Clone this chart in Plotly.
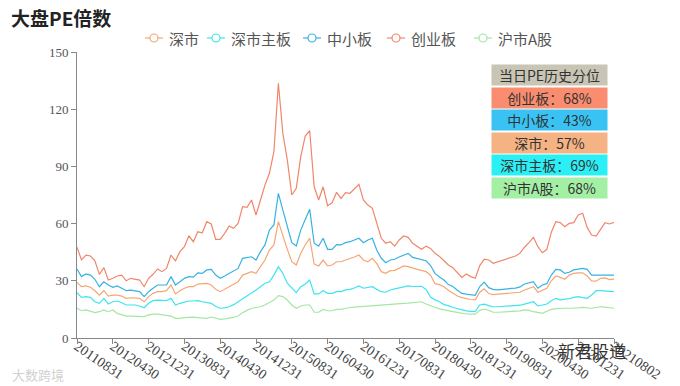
import calendar
import plotly.graph_objects as go

# ---------------- data ----------------
def month_ends(y, m, n):
    out = []
    for _ in range(n):
        d = calendar.monthrange(y, m)[1]
        out.append(f"{y}{m:02d}{d:02d}")
        m += 1
        if m > 12:
            m = 1
            y += 1
    return out

dates = month_ends(2011, 8, 120) + ["20210802"]
tick_labels = dates[::8]

cyb = [47.6, 41, 43.5, 43, 40.5, 33.4, 36.9, 30.4, 31.3, 32.5,
       33, 30, 31.3, 30.8, 30.4, 26.9, 31.3, 33.4, 36.2, 34.8,
       36.5, 43.5, 40.5, 45.3, 47.9, 53.6, 50.5, 55.7, 55.2, 61,
       59.8, 51.7, 51.7, 54.9, 58.7, 57.5, 60.1, 68.9, 68.5, 72.4,
       64.5, 72.4, 80.2, 86.4, 97.7, 133.6, 107.3, 93.3, 75, 78.5,
       95.1, 105.9, 108.7, 79.3, 72.4, 79.3, 69.4, 70.9, 76.4, 73.2,
       76.2, 75.9, 78.5, 80.6, 72.4, 69.7, 68, 60, 52.3, 49.7,
       50.5, 48.2, 51.4, 53.5, 52.8, 49.7, 48.2, 46.5, 48.2, 47,
       44.4, 42.8, 40.5, 38.3, 36.8, 34.5, 31.8, 33.6, 32.2, 31.3,
       38, 41.3, 40.9, 39.2, 40, 40.8, 41.8, 42.5, 43, 44.5,
       47.6, 50, 52.8, 47.9, 44.7, 46.5, 55.5, 61, 60.5, 58.4,
       60.1, 60.5, 64.5, 65.4, 58, 54, 53.5, 57, 60.5, 59.8,
       60.7]

zxb = [36.2, 32.2, 33.6, 33, 30.8, 26.9, 29.5, 27.8, 26.6, 27.3,
       26.1, 24.8, 25.1, 24.8, 24.3, 21.7, 24.3, 26.1, 27.8, 27.8,
       27.8, 32.2, 27.8, 29.5, 31.3, 32.2, 31.9, 34.2, 33.9, 35.7,
       36, 33, 31.3, 32.5, 33.9, 35, 36.5, 41.8, 42.3, 42.6,
       40.9, 45.3, 48.8, 56.6, 59.3, 75.9, 67.1, 58.4, 50, 48.2,
       56.6, 62.2, 67.5, 49.7, 48.2, 52.3, 46.5, 46.5, 49, 48.8,
       50, 50.5, 51.5, 52.3, 50, 51.4, 52.3, 46, 41.8, 39.5,
       40.9, 41.3, 42.5, 43.5, 44.4, 42.3, 41.8, 41, 40.5, 38,
       33.9, 32, 30.4, 28, 27, 25, 23.4, 23, 22.5, 22.4,
       27, 29.3, 26.4, 25.5, 25.2, 25.5, 26, 26, 26.2, 26.8,
       28.3, 29, 29.5, 26.1, 27.8, 28.5, 33, 36, 35.7, 33.9,
       34.5, 35.7, 36, 36.5, 36, 33, 33, 33, 33, 33,
       33]

ss = [29.2, 26.9, 27.3, 26.6, 24.8, 22.5, 24.8, 22, 22.5, 22.5,
      22, 20.8, 21.1, 21.1, 20.8, 19, 21.7, 23.4, 24.3, 24.3,
      24.8, 27.8, 23.1, 24.8, 26.1, 26.9, 26.9, 28.3, 28.3, 28.6,
      27.8, 25.5, 24.3, 25.5, 26.9, 28, 29.5, 33, 34, 34.8,
      33.9, 37.4, 40.9, 46.1, 48.8, 61, 53.1, 46.5, 40, 38.3,
      44.4, 48.8, 52.3, 38.8, 37.8, 40.9, 37.8, 38.3, 40, 40,
      40.9, 41.5, 42.5, 43.5, 40.9, 40, 41.8, 39, 34.8, 33.9,
      35.3, 35.5, 36.5, 37.8, 37.4, 36.5, 36, 35.5, 34.8, 33,
      28.5, 28, 26.9, 25, 23.5, 22, 21.2, 20.6, 20.2, 20,
      24, 25.8, 23.3, 22.8, 23, 23.2, 23.4, 23.5, 23.7, 24,
      25.2, 26, 26.9, 24, 25.2, 26.1, 30, 32.5, 31.8, 30.8,
      33, 33.9, 34.2, 34.2, 32.5, 30, 29.8, 31.3, 31.5, 30.6,
      30.9]

sszb = [23.8, 21.3, 21.7, 21.3, 19, 18.2, 20.8, 17.8, 19, 19.4,
        18.5, 17.3, 17.3, 17.3, 16.8, 15.9, 18.2, 19.6, 19.9, 19.6,
        19.6, 20.8, 17.3, 18.2, 19, 19.4, 19.4, 19.6, 19, 18.5,
        18.2, 16.5, 15.6, 15.8, 16.4, 17.5, 19, 20.8, 22, 23.4,
        25.2, 26.9, 28.7, 29.5, 33, 37.4, 33.9, 28.7, 26.1, 23.8,
        26.9, 28.3, 30.4, 23.1, 23.1, 24.8, 23.4, 23.4, 24.3, 24.3,
        25.2, 25.5, 26.2, 27.3, 26.1, 26.5, 26.9, 25.5, 24.3, 24,
        25.2, 25.8, 26.4, 26.9, 27.3, 27, 26.9, 27.1, 25.5, 21.5,
        20, 19, 17.5, 17, 16, 15.4, 14.8, 14.2, 14, 14,
        17.3, 17.8, 17, 16.4, 16.4, 16.5, 16.6, 16.7, 16.8, 17.2,
        17.8, 18.5, 19, 16.8, 17.2, 17.8, 19.5, 20.8, 20, 20.2,
        20.6, 21.3, 21.7, 21.2, 20.8, 22.5, 24.8, 24.8, 24.8, 24.5,
        24.3]

shag = [15.6, 14.3, 14.7, 13.8, 13.3, 13.8, 14.7, 13.8, 14.7, 12.9,
        12.1, 11.5, 11.5, 11.5, 11.5, 11.2, 12.1, 12.5, 12.5, 12.1,
        11.7, 11.5, 10.3, 10.3, 10.7, 10.9, 10.9, 10.7, 10.3, 10.3,
        11, 10.4, 9.8, 10, 10.3, 10.8, 11.5, 13.3, 14.5, 15.6,
        16, 16.4, 17.3, 18.5, 19.9, 22.2, 21.7, 19.9, 17.3, 15.6,
        16.8, 17.3, 17.3, 13.5, 13.5, 15, 14.3, 14.3, 15, 15,
        15.6, 16, 16.2, 16.4, 16.4, 16.8, 17, 17.3, 17.5, 17.6,
        17.8, 18, 18.1, 18.2, 18.3, 18.5, 18.8, 19, 17.8, 16.8,
        16.1, 15.3, 14.7, 14, 13.8, 13.4, 12.9, 12.6, 12.5, 12.5,
        14.5, 15.2, 14.5, 13.5, 13.5, 13.6, 13.6, 13.7, 13.8, 14.2,
        14.7, 14.5, 13.8, 13.2, 12.9, 14, 15, 15.4, 15.6, 15.6,
        15.6, 15.6, 15.8, 16.1, 15.8, 15.6, 16, 16.4, 16.2, 15.8,
        15.6]

series_names = ["深市", "深市主板", "中小板", "创业板", "沪市A股"]
series_values = [ss, sszb, zxb, cyb, shag]
series_colors = ["#f5a674", "#3ee4f0", "#36b2e2", "#f0866a", "#a4e6a4"]

pct_names = ["创业板", "中小板", "深市", "深市主板", "沪市A股"]
pct_values = ["68%", "43%", "57%", "69%", "68%"]
pct_colors = ["#fa8d6f", "#38c3f4", "#f5b283", "#2af0f6", "#a3f0a5"]

y_ticks = [0, 30, 60, 90, 120, 150]

# ---------------- figure ----------------
W, H = 680, 386
L, R, T, B = 77, 614, 52, 338

def px(xp):
    return (xp - L) / (R - L)

def py(yp):
    return (B - yp) / (B - T)

fig = go.Figure()

for name, vals, col in zip(series_names, series_values, series_colors):
    fig.add_trace(go.Scatter(x=dates, y=vals, mode="lines", name=name,
                             line=dict(color=col, width=1.2),
                             showlegend=False, hoverinfo="skip"))

annotations = []
shapes = []

# title
annotations.append(dict(x=px(9), y=py(18), xref="paper", yref="paper",
                        text="<b>大盘PE倍数</b>", showarrow=False,
                        xanchor="left", yanchor="middle",
                        font=dict(family="Noto Sans CJK SC", size=19, color="#222")))

# legend (icon -o- then label)
leg_icon_cx = [154, 216, 312, 396, 483]
leg_text_x = [167, 229, 325, 409, 496]
leg_y = 38
for name, col, cx, tx in zip(series_names, series_colors, leg_icon_cx, leg_text_x):
    shapes.append(dict(type="line", xref="paper", yref="paper",
                       x0=px(cx - 9), x1=px(cx + 9), y0=py(leg_y), y1=py(leg_y),
                       line=dict(color=col, width=1.2)))
    shapes.append(dict(type="circle", xref="paper", yref="paper",
                       x0=px(cx - 4), x1=px(cx + 4), y0=py(leg_y - 4), y1=py(leg_y + 4),
                       fillcolor="white", line=dict(color=col, width=1.2)))
    annotations.append(dict(x=px(tx), y=py(leg_y), xref="paper", yref="paper",
                            text=name, showarrow=False, xanchor="left", yanchor="middle",
                            font=dict(family="Noto Sans CJK SC", size=15, color="#555")))

# percentile box
annotations.append(dict(x=px(549.5), y=py(74.5), xref="paper", yref="paper",
                        text="当日PE历史分位", showarrow=False,
                        xanchor="center", yanchor="middle",
                        width=113, height=18, bgcolor="#c8c5b5",
                        font=dict(family="Noto Sans CJK SC", size=14, color="#333")))
row_y = [97.5, 120, 142.5, 165, 187.5]
for nm, v, c, yy in zip(pct_names, pct_values, pct_colors, row_y):
    annotations.append(dict(x=px(549.5), y=py(yy), xref="paper", yref="paper",
                            text=f"{nm}：{v}", showarrow=False,
                            xanchor="center", yanchor="middle",
                            width=113, height=18, bgcolor=c,
                            font=dict(family="Noto Sans CJK SC", size=14, color="#333")))

# watermarks
annotations.append(dict(x=px(10), y=py(374), xref="paper", yref="paper",
                        text="大数跨境", showarrow=False, xanchor="left", yanchor="middle",
                        font=dict(family="Noto Sans CJK SC", size=13, color="#d0d0d0")))
annotations.append(dict(x=px(556), y=py(350), xref="paper", yref="paper",
                        text="新君股道", showarrow=False, xanchor="left", yanchor="middle",
                        font=dict(family="Noto Sans CJK SC", size=17, color="#333")))

fig.update_layout(
    width=W, height=H,
    margin=dict(l=L, r=W - R, t=T, b=H - B, autoexpand=False),
    paper_bgcolor="white", plot_bgcolor="white",
    showlegend=False,
    xaxis=dict(type="category", range=[0, len(dates) - 1],
               tickmode="array", tickvals=tick_labels, ticktext=tick_labels,
               tickangle=34, ticks="outside", ticklen=5, tickcolor="#888",
               ticklabelstandoff=-11,
               showline=True, linecolor="#888", linewidth=1,
               showgrid=False, zeroline=False, automargin=False,
               tickfont=dict(family="Liberation Serif", size=14, color="#444")),
    yaxis=dict(range=[0, 150], tickmode="array", tickvals=y_ticks,
               ticks="outside", ticklen=5, tickcolor="#888",
               showline=True, linecolor="#888", linewidth=1,
               showgrid=False, zeroline=False, automargin=False,
               tickfont=dict(family="Liberation Serif", size=13, color="#555")),
    annotations=annotations,
    shapes=shapes,
    hovermode=False,
)

fig.write_html("out.html",
               config={"displayModeBar": False, "staticPlot": True},
               post_script="document.body.style.margin='0';document.body.style.overflow='hidden';")
